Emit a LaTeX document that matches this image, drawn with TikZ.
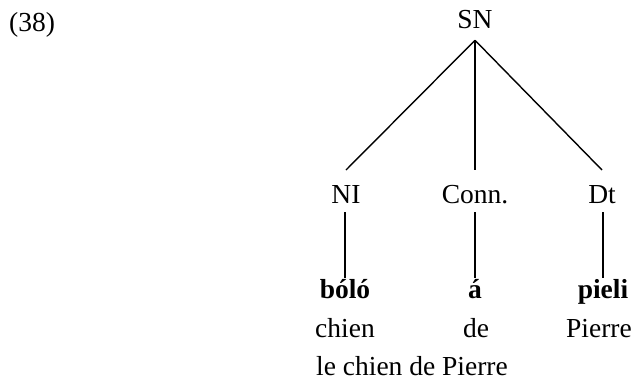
\documentclass[tikz,border=0pt]{standalone}
\usepackage{fontspec}
\setmainfont{Liberation Serif}
\begin{document}
\begin{tikzpicture}
    \def\dx{1pt}
    \def\dy{-1pt}

    \tikzstyle{label}=[anchor=base,inner sep=0pt,font=\fontsize{27.5}{32}\selectfont]
    \tikzstyle{cat}=[label,text height=24pt,text depth=0pt,outer ysep=9pt]
    \tikzstyle{word}=[label,font=\fontsize{27.5}{32}\selectfont\bfseries,text height=18pt,text depth=0pt,outer ysep=2pt]
    \tikzstyle{gloss}=[label]

    \useasboundingbox (0,0) rectangle (638*\dx,381*\dy);

    \node[label,anchor=base west]  (ex) at (9*\dx,31*\dy) {(38)};
    \node[label,outer ysep=12pt]  (sn) at (475*\dx,28*\dy) {SN};

    \node[cat]  (ni) at (346*\dx,203*\dy) {NI};
    \node[cat]  (conn) at (475*\dx,203*\dy) {Conn.};
    \node[cat]  (dt) at (602*\dx,203*\dy) {Dt};

    \node[word]  (bolo) at (345*\dx,298*\dy) {bóló};
    \node[word]  (a) at (475*\dx,298*\dy) {á};
    \node[word]  (pieli) at (603*\dx,298*\dy) {pieli};

    \node[gloss]  (chien) at (345*\dx,337*\dy) {chien};
    \node[gloss]  (de) at (476*\dx,337*\dy) {de};
    \node[gloss]  (pierre) at (599*\dx,337*\dy) {Pierre};

    \node[gloss]  (trans) at (412*\dx,375*\dy) {le chien de Pierre};

    \tikzstyle{branch} = [draw=black, line width=1.4pt]

          \draw [branch] (sn.south) -- (ni.north);
          \draw [branch] (sn.south) -- (conn.north);
          \draw [branch] (sn.south) -- (dt.north);
          \draw [branch] (ni.south -| bolo.north) -- (bolo.north);
          \draw [branch] (conn.south) -- (a.north);
          \draw [branch] (dt.south -| pieli.north) -- (pieli.north);

  \end{tikzpicture}
\end{document}
